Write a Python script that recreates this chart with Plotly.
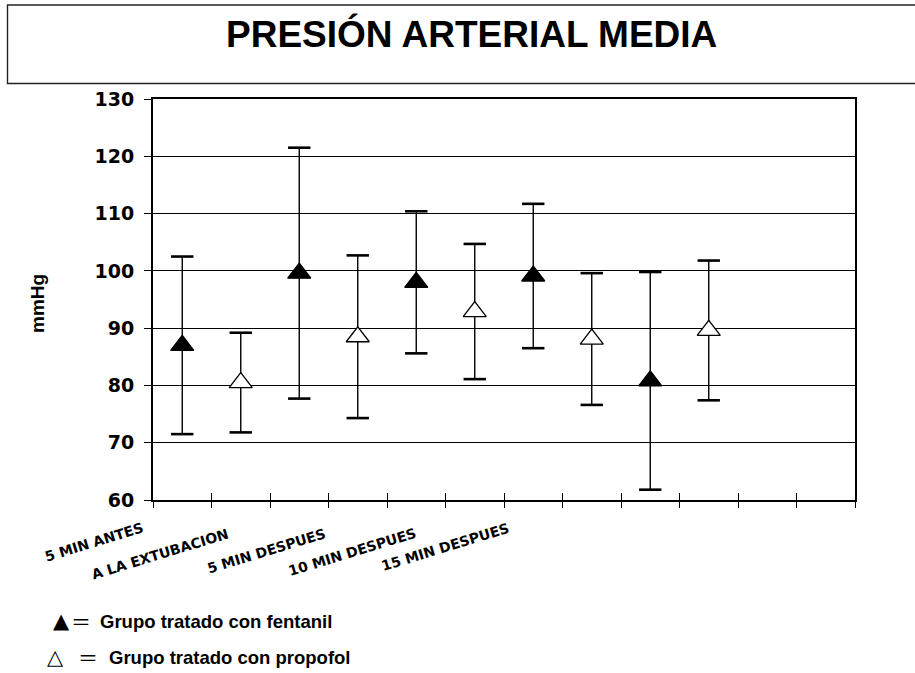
import plotly.graph_objects as go

# ---- data -------------------------------------------------------------
title_text = "PRESIÓN ARTERIAL MEDIA"
y_title = "mmHg"
categories = ["5 MIN ANTES", "A LA EXTUBACION", "5 MIN DESPUES",
              "10 MIN DESPUES", "15 MIN DESPUES"]
n_slots = 12
fent_slots = [0, 2, 4, 6, 8]
prop_slots = [1, 3, 5, 7, 9]
fent_mean = [87.0, 99.6, 98.0, 99.1, 80.8]
fent_sd = [15.5, 21.9, 12.4, 12.6, 19.0]
prop_mean = [80.5, 88.5, 92.9, 88.1, 89.6]
prop_sd = [8.7, 14.2, 11.8, 11.5, 12.2]
y_ticks = [60, 70, 80, 90, 100, 110, 120, 130]
legend_labels = ["Grupo tratado con fentanil", "Grupo tratado con propofol"]

# ---- geometry ---------------------------------------------------------
W, H = 915, 673
ML, MR, MT, MB = 153, 60, 99, 173
PW, PH = W - ML - MR, H - MT - MB


def px_x(p):
    return (p - ML) / PW


def px_y(p):
    return (H - MB - p) / PH


ARIAL = "Liberation Sans, Arial, sans-serif"
VERD = "DejaVu Sans, Verdana, sans-serif"

fig = go.Figure()


def add_group(slots, mean, sd, fill):
    xs = [s + 0.5 for s in slots]
    upper = [m + e for m, e in zip(mean, sd)]
    lower = [m - e for m, e in zip(mean, sd)]
    # error-bar caps
    fig.add_trace(go.Scatter(
        x=xs + xs, y=upper + lower, mode="markers", hoverinfo="skip",
        marker=dict(symbol="line-ew", size=16,
                    line=dict(color="black", width=2.6)),
        showlegend=False))
    # means with error stems
    fig.add_trace(go.Scatter(
        x=xs, y=mean, mode="markers", showlegend=False,
        error_y=dict(type="data", array=sd, visible=True,
                     color="black", thickness=1.4, width=0),
        marker=dict(symbol="triangle-up", size=20, color=fill,
                    line=dict(color="black", width=1.3))))


add_group(fent_slots, fent_mean, fent_sd, "black")
add_group(prop_slots, prop_mean, prop_sd, "white")

# ---- annotations --------------------------------------------------------
ann = []
ann.append(dict(text=title_text, xref="paper", yref="paper",
                x=px_x(471), y=px_y(34), xanchor="center", yanchor="middle",
                showarrow=False,
                font=dict(family=ARIAL, size=37, color="black", weight="bold")))
ann.append(dict(text=y_title, xref="paper", yref="paper",
                x=px_x(37), y=px_y(304), xanchor="center", yanchor="middle",
                textangle=-90, showarrow=False,
                font=dict(family=ARIAL, size=19, color="black", weight="bold")))

label_centers = [(94, 542), (160, 554), (266, 551), (352, 552), (445, 547)]
for txt, (cx, cy) in zip(categories, label_centers):
    ann.append(dict(text=txt, xref="paper", yref="paper",
                    x=px_x(cx), y=px_y(cy), xanchor="center", yanchor="middle",
                    textangle=-17, showarrow=False,
                    font=dict(family=VERD, size=14, color="black",
                              weight="bold")))

legend_rows = [("▲", 61, 81, 98, 621), ("△", 55, 88, 107, 657)]
for (sym, sx, ex, tx, ry), lab in zip(legend_rows, legend_labels):
    ann.append(dict(text=sym, xref="paper", yref="paper", x=px_x(sx),
                    y=px_y(ry), xanchor="center", yanchor="middle",
                    showarrow=False,
                    font=dict(family=VERD, size=21, color="black")))
    ann.append(dict(text="＝", xref="paper", yref="paper", x=px_x(ex),
                    y=px_y(ry), xanchor="center", yanchor="middle",
                    showarrow=False,
                    font=dict(family="Noto Sans CJK JP", size=20,
                              color="black")))
    ann.append(dict(text=lab, xref="paper", yref="paper", x=px_x(tx),
                    y=px_y(ry), xanchor="left", yanchor="middle",
                    showarrow=False,
                    font=dict(family=ARIAL, size=18.5, color="black",
                              weight="bold")))

# title frame
shapes = [dict(type="rect", xref="paper", yref="paper",
               x0=px_x(7.5), x1=px_x(918), y0=px_y(83.5), y1=px_y(5),
               line=dict(color="#222", width=1.4), fillcolor="rgba(0,0,0,0)")]

fig.update_layout(
    width=W, height=H,
    margin=dict(l=ML, r=MR, t=MT, b=MB, pad=0),
    paper_bgcolor="white", plot_bgcolor="white",
    showlegend=False,
    annotations=ann, shapes=shapes,
    xaxis=dict(range=[0, n_slots], tickmode="array",
               tickvals=list(range(n_slots + 1)), ticks="outside",
               ticklen=6, tickwidth=1.4, tickcolor="black",
               showticklabels=False, showgrid=False, zeroline=False,
               showline=True, linecolor="black", linewidth=2, mirror=True,
               fixedrange=True),
    xaxis2=dict(range=[0, n_slots], overlaying="x", anchor="y", side="bottom",
                tickmode="array", tickvals=list(range(n_slots + 1)),
                ticks="inside", ticklen=7, tickwidth=1.4, tickcolor="black",
                showticklabels=False, showgrid=False, zeroline=False,
                showline=False),
    yaxis=dict(range=[60, 130], tickmode="array", tickvals=y_ticks,
               ticks="outside", ticklen=7, tickwidth=1.4, tickcolor="black",
               ticklabelstandoff=6,
               tickfont=dict(family=VERD, size=19, color="black",
                             weight="bold"),
               showgrid=True, gridcolor="black", gridwidth=1.3,
               zeroline=False, showline=True, linecolor="black", linewidth=2,
               mirror=True, fixedrange=True),
)

# empty trace so the overlay axis with inside ticks is rendered
fig.add_trace(go.Scatter(x=[None], y=[None], xaxis="x2", yaxis="y",
                         showlegend=False, hoverinfo="skip"))

fig.write_html("out.html")
